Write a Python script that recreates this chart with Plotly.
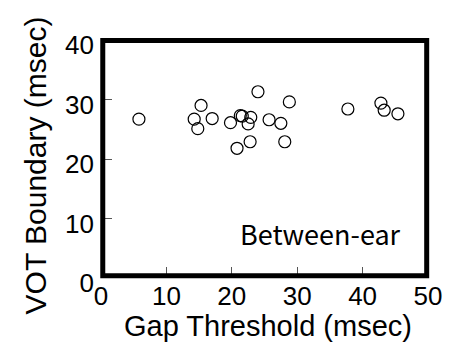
import plotly.graph_objects as go

gap_threshold = [5.8, 14.25, 14.8, 15.3, 17.0, 19.8, 20.8, 21.3, 21.6, 22.5, 22.9, 22.8,
                 24.0, 25.7, 27.5, 28.1, 28.8, 37.75, 42.8, 43.3, 45.4]
vot_boundary = [26.7, 26.7, 25.1, 29.0, 26.8, 26.1, 21.8, 27.3, 27.2, 25.9, 27.0, 22.9,
                31.3, 26.6, 26.0, 22.9, 29.6, 28.4, 29.4, 28.2, 27.6]
tick_vals = [0, 10, 20, 30, 40, 50]
y_tick_vals = [0, 10, 20, 30, 40]
x_title = "Gap Threshold (msec)"
y_title = "VOT Boundary (msec)"
label = "Between-ear"

fig = go.Figure()
fig.add_trace(go.Scatter(
    x=gap_threshold, y=vot_boundary, mode="markers",
    marker=dict(symbol="circle-open", size=12, color="black", line=dict(width=1.2, color="black")),
    cliponaxis=False, showlegend=False,
))

axis_font = dict(family="Liberation Sans, Arial, sans-serif", size=26, color="black")
fig.update_xaxes(range=[0, 50], tickvals=tick_vals, ticks="inside", ticklen=11, tickwidth=1,
                 tickcolor="#555", showgrid=False, zeroline=False, showline=False,
                 tickfont=axis_font)
fig.update_yaxes(range=[0, 40], tickvals=y_tick_vals, ticks="inside", ticklen=11, tickwidth=1,
                 tickcolor="#555", showgrid=False, zeroline=False, showline=False,
                 tickfont=axis_font, ticklabelshift=5, ticklabelstandoff=6)

fig.add_shape(type="rect", xref="paper", yref="paper", x0=0.0054, x1=0.996, y0=0.009, y1=0.998,
              line=dict(color="black", width=5), fillcolor="rgba(0,0,0,0)", layer="above")

title_font = dict(family="Liberation Sans, Arial, sans-serif", size=29, color="black")
fig.add_annotation(text=x_title, xref="paper", yref="paper", x=0.512, y=-0.2025,
                   xanchor="center", yanchor="middle", showarrow=False, font=title_font)
fig.add_annotation(text=y_title, xref="paper", yref="paper", x=-0.199, y=0.4726,
                   xanchor="center", yanchor="middle", showarrow=False, textangle=-90,
                   font=dict(family="Liberation Sans, Arial, sans-serif", size=30, color="black"))
fig.add_annotation(text=label, xref="x", yref="y", x=33.6, y=7.5,
                   xanchor="center", yanchor="middle", showarrow=False,
                   font=dict(family="Noto Sans CJK JP, sans-serif", size=27, color="black"))

fig.update_layout(width=454, height=348, margin=dict(l=100.5, r=19.5, t=40, b=70),
                  plot_bgcolor="white", paper_bgcolor="white")

fig.write_html("out.html")
